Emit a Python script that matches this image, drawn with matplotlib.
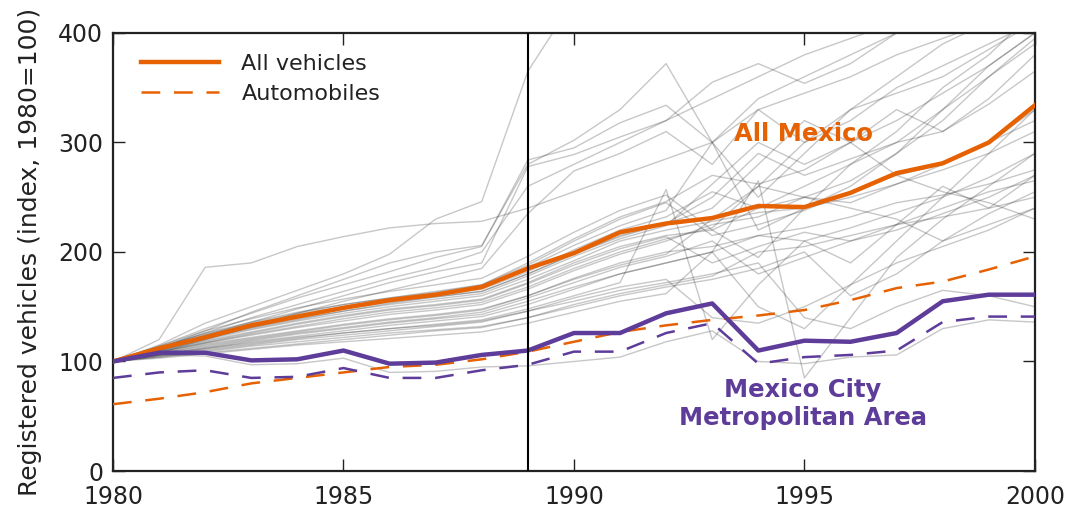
import matplotlib
matplotlib.use("Agg")
import matplotlib.pyplot as plt

years = list(range(1980, 2001))

# National totals (index, 1980 = 100)
mexico_all = [100, 112, 122, 133, 141, 149, 156, 161, 168, 185, 199, 218, 226, 231, 242, 241, 254, 272, 281, 300, 334]
mexico_auto = [61, 66, 72, 80, 85, 90, 95, 97, 102, 109, 118, 127, 133, 138, 142, 147, 156, 167, 173, 184, 196]

# Mexico City metropolitan area
mcma_all = [100, 108, 108, 101, 102, 110, 98, 99, 106, 110, 126, 126, 144, 153, 110, 119, 118, 126, 155, 161, 161]
mcma_auto = [85, 90, 92, 85, 86, 94, 85, 85, 92, 97, 109, 109, 126, 135, 98, 104, 106, 110, 136, 141, 141]

# Individual states, all vehicles
states = [
    [100, 110, 120, 129, 137, 144, 150, 155, 160, 175, 192, 210, 220, 228, 236, 240, 250, 262, 275, 290, 310],
    [100, 109, 117, 125, 132, 139, 145, 149, 154, 168, 185, 200, 212, 222, 260, 300, 330, 345, 360, 385, 410],
    [100, 112, 123, 133, 141, 148, 154, 159, 164, 180, 198, 215, 226, 250, 290, 270, 285, 300, 330, 360, 395],
    [100, 108, 116, 122, 128, 134, 139, 143, 148, 160, 176, 190, 200, 205, 215, 222, 232, 245, 252, 262, 275],
    [100, 113, 126, 136, 145, 152, 158, 163, 170, 188, 210, 230, 245, 215, 225, 238, 255, 270, 280, 300, 330],
    [100, 107, 114, 120, 126, 131, 136, 140, 145, 158, 172, 186, 196, 210, 180, 195, 210, 220, 235, 250, 270],
    [100, 111, 121, 131, 139, 146, 152, 157, 162, 178, 196, 212, 224, 262, 300, 280, 300, 320, 345, 370, 400],
    [100, 110, 119, 127, 135, 142, 148, 152, 157, 172, 190, 205, 215, 220, 240, 250, 265, 290, 320, 360, 390],
    [100, 114, 128, 139, 149, 157, 164, 170, 176, 196, 218, 238, 252, 220, 195, 240, 280, 310, 350, 380, 420],
    [100, 106, 112, 118, 123, 128, 133, 137, 141, 152, 166, 180, 190, 200, 215, 210, 222, 236, 250, 268, 290],
    [100, 112, 124, 134, 143, 150, 157, 162, 168, 186, 206, 224, 238, 300, 340, 360, 380, 400, 420, 440, 460],
    [100, 109, 118, 126, 134, 141, 147, 151, 156, 171, 188, 203, 214, 190, 205, 218, 210, 225, 240, 255, 265],
    [100, 111, 122, 131, 140, 148, 155, 160, 166, 182, 202, 220, 232, 255, 240, 260, 280, 300, 310, 335, 365],
    [100, 108, 117, 124, 131, 137, 143, 147, 152, 166, 183, 198, 210, 225, 232, 250, 245, 262, 280, 300, 320],
    [100, 113, 125, 135, 144, 152, 158, 164, 170, 190, 212, 232, 246, 270, 262, 275, 300, 330, 310, 340, 380],
    [100, 120, 186, 190, 205, 214, 222, 226, 228, 240, 255, 270, 285, 300, 330, 345, 360, 380, 395, 410, 430],
    [100, 115, 135, 150, 165, 180, 198, 230, 246, 365, 430, 460, 480, 470, 490, 500, 510, 520, 530, 540, 550],
    [100, 112, 128, 145, 160, 175, 190, 200, 206, 280, 302, 330, 372, 300, 250, 290, 330, 360, 390, 410, 430],
    [100, 114, 130, 144, 158, 170, 182, 195, 205, 284, 295, 318, 334, 300, 220, 240, 260, 290, 330, 370, 400],
    [100, 110, 124, 136, 148, 160, 172, 182, 190, 278, 289, 305, 320, 355, 372, 354, 372, 400, 420, 440, 450],
    [100, 112, 126, 140, 152, 164, 176, 186, 200, 260, 280, 300, 320, 340, 360, 380, 395, 410, 420, 430, 440],
    [100, 108, 120, 132, 144, 155, 165, 175, 185, 235, 274, 290, 310, 280, 330, 300, 320, 350, 370, 390, 410],
    [100, 104, 109, 114, 118, 122, 126, 129, 132, 140, 152, 162, 170, 178, 200, 205, 215, 225, 232, 240, 250],
    [100, 103, 107, 111, 115, 118, 121, 124, 127, 135, 145, 155, 162, 200, 265, 85, 140, 195, 230, 260, 290],
    [100, 105, 111, 116, 121, 126, 130, 134, 138, 148, 160, 172, 257, 120, 170, 210, 190, 225, 260, 240, 270],
    [100, 104, 108, 112, 116, 120, 124, 128, 131, 140, 150, 160, 168, 175, 185, 200, 160, 180, 210, 235, 255],
    [100, 106, 113, 119, 125, 130, 135, 139, 143, 155, 168, 180, 190, 200, 150, 130, 170, 210, 250, 290, 330],
    [100, 105, 110, 115, 120, 124, 128, 132, 136, 146, 158, 168, 175, 140, 135, 150, 170, 190, 205, 220, 240],
    [100, 107, 115, 121, 127, 133, 138, 142, 147, 160, 175, 188, 198, 230, 260, 250, 240, 230, 210, 225, 240],
    [100, 110, 121, 130, 138, 146, 153, 159, 164, 180, 198, 214, 226, 240, 280, 320, 300, 270, 255, 245, 230],
    [100, 106, 112, 117, 122, 126, 130, 133, 137, 146, 155, 165, 172, 180, 190, 140, 130, 150, 165, 160, 150],
    [100, 106, 105, 97, 98, 103, 90, 91, 95, 96, 100, 104, 118, 128, 100, 98, 104, 106, 130, 138, 136],
]

ORANGE = "#e66101"
PURPLE = "#5e3c99"
INK = "#222222"
DASH = (0, (7.5, 5.5))

plt.rcParams["font.family"] = ["DejaVu Sans"]
fig = plt.figure(figsize=(10.68, 5.07), dpi=100)
ax = fig.add_axes([0.1058, 0.071, 0.8632, 0.864])

for s in states:
    ax.plot(years, s, color="#222222", alpha=0.25, lw=1.0, zorder=1)

ax.plot(years, mexico_all, color=ORANGE, lw=3.2, label="All vehicles", zorder=3)
ax.plot(years, mexico_auto, color=ORANGE, lw=1.8, ls=DASH, label="Automobiles", zorder=3)
ax.plot(years, mcma_all, color=PURPLE, lw=3.2, zorder=3)
ax.plot(years, mcma_auto, color=PURPLE, lw=1.8, ls=DASH, zorder=3)

ax.axvline(1989, color="black", lw=1.5, zorder=4)

ax.text(1994.97, 308, "All Mexico", color=ORANGE, fontsize=17.5, fontweight="bold",
        ha="center", va="center", zorder=5)
ax.text(1994.97, 61.5, "Mexico City\nMetropolitan Area", color=PURPLE, fontsize=17.5,
        fontweight="bold", ha="center", va="center", linespacing=1.2, zorder=5)

ax.set_xlim(1980, 2000)
ax.set_ylim(0, 400)
ax.set_xticks([1980, 1985, 1990, 1995, 2000])
ax.set_yticks([0, 100, 200, 300, 400])
ax.tick_params(direction="in", length=8.5, width=1, top=True, right=True,
               labelsize=17, colors=INK)
ax.tick_params(axis="x", pad=10)
ax.tick_params(axis="y", pad=7)
for sp in ax.spines.values():
    sp.set_linewidth(1.6)
    sp.set_color(INK)

ax.set_ylabel("Registered vehicles (index, 1980=100)", fontsize=18, color=INK, labelpad=12)

leg = ax.legend(loc="upper left", frameon=False, fontsize=16, handlelength=3.5,
                handletextpad=1.0, labelspacing=0.45, borderaxespad=0.55,
                bbox_to_anchor=(0.008, 1.0))
for t in leg.get_texts():
    t.set_color(INK)

fig.savefig("out.png", dpi=100)
